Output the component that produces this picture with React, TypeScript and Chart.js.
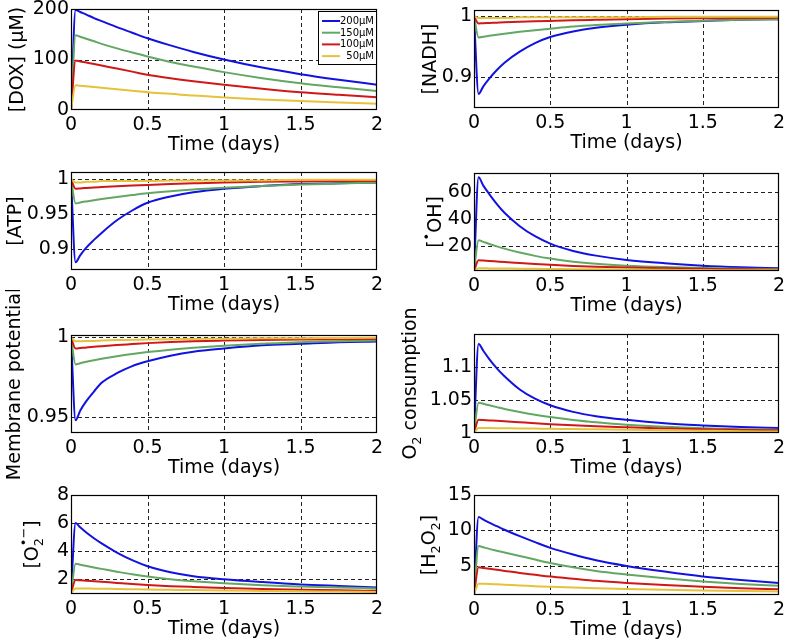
import React, { useEffect, useRef } from "react";
import { Chart, registerables } from "chart.js";

Chart.register(...registerables);

// ---------------- data ----------------
const TIME = [0, 0.03, 0.06, 0.1, 0.15, 0.2, 0.3, 0.4, 0.5, 0.65, 0.8, 1, 1.25, 1.5, 1.75, 2];
const DOSE_LABELS = ["200μM", "150μM", "100μM", "50μM"];
const DOSE_COLORS = ["#1212e0", "#62a862", "#d01818", "#e6c23c"];
const X_TICKS = [0, 0.5, 1, 1.5, 2];
const X_TICK_LABELS = ["0", "0.5", "1", "1.5", "2"];
const X_TITLE = "Time (days)";

const DOX_200 = [0, 198, 194, 189, 182, 176, 164, 153, 142, 128, 115, 100, 84, 71, 60, 50];
const DOX_150 = [0, 148, 145, 141, 136, 131, 122, 114, 106, 95, 86, 75, 63, 53, 45, 37.5];
const DOX_100 = [0, 98, 96, 94, 91, 88, 82, 76, 70, 63, 57, 50, 42, 35, 30, 25];
const DOX_50 = [0, 49, 48, 47, 45.5, 44, 41, 38, 35, 32, 28.5, 25, 21, 18, 15, 12.5];
const DOX_TICKS = [0, 100, 200];
const DOX_TICK_LABELS = ["0", "100", "200"];

const NADH_200 = [1.0, 0.873, 0.885, 0.898, 0.912, 0.924, 0.942, 0.956, 0.966, 0.975, 0.981, 0.986, 0.99, 0.992, 0.994, 0.995];
const NADH_150 = [1.0, 0.965, 0.9665, 0.968, 0.9697, 0.9713, 0.9743, 0.977, 0.9795, 0.983, 0.9855, 0.988, 0.9905, 0.9925, 0.994, 0.995];
const NADH_100 = [1.0, 0.988, 0.9884, 0.9888, 0.9893, 0.9898, 0.9907, 0.9915, 0.9922, 0.9932, 0.994, 0.995, 0.996, 0.9966, 0.997, 0.9972];
const NADH_50 = [1.0, 0.997, 0.997, 0.997, 0.997, 0.997, 0.998, 0.998, 0.998, 0.998, 0.998, 0.998, 0.999, 0.999, 0.999, 0.999];
const NADH_TICKS = [0.9, 1];
const NADH_TICK_LABELS = ["0.9", "1"];

const ATP_200 = [1.0, 0.881, 0.891, 0.902, 0.913, 0.923, 0.941, 0.955, 0.966, 0.975, 0.981, 0.986, 0.99, 0.993, 0.994, 0.995];
const ATP_150 = [1.0, 0.965, 0.9665, 0.968, 0.9697, 0.9713, 0.9743, 0.977, 0.9795, 0.9825, 0.985, 0.9875, 0.99, 0.992, 0.9935, 0.995];
const ATP_100 = [1.0, 0.986, 0.9866, 0.9872, 0.9879, 0.9885, 0.9897, 0.9907, 0.9916, 0.9928, 0.9938, 0.995, 0.996, 0.9965, 0.997, 0.9972];
const ATP_50 = [1.0, 0.995, 0.995, 0.996, 0.996, 0.997, 0.997, 0.997, 0.997, 0.998, 0.998, 0.998, 0.998, 0.999, 0.999, 0.999];
const ATP_TICKS = [0.9, 0.95, 1];
const ATP_TICK_LABELS = ["0.9", "0.95", "1"];

const OH_200 = [1, 71, 65, 58.5, 51, 44.5, 34.5, 27, 21.5, 16, 12.5, 9.3, 6.8, 5, 3.8, 3];
const OH_150 = [1, 24, 22.8, 21.2, 19.4, 17.7, 14.8, 12.3, 10.3, 8, 6.4, 5, 3.9, 3.2, 2.7, 2.3];
const OH_100 = [1, 9, 8.8, 8.5, 8.1, 7.7, 7, 6.3, 5.6, 4.8, 4.2, 3.6, 3, 2.6, 2.3, 2];
const OH_50 = [1, 3, 3, 2.95, 2.9, 2.85, 2.75, 2.6, 2.5, 2.4, 2.25, 2.1, 1.9, 1.7, 1.6, 1.5];
const OH_TICKS = [20, 40, 60];
const OH_TICK_LABELS = ["20", "40", "60"];

const MEM_200 = [1.0, 0.948, 0.954, 0.96, 0.966, 0.9715, 0.9775, 0.982, 0.985, 0.9885, 0.991, 0.993, 0.995, 0.996, 0.997, 0.9974];
const MEM_150 = [1.0, 0.983, 0.9838, 0.9847, 0.9857, 0.9866, 0.9882, 0.9896, 0.9908, 0.9923, 0.9935, 0.9948, 0.996, 0.997, 0.9975, 0.998];
const MEM_100 = [1.0, 0.993, 0.9933, 0.9937, 0.9941, 0.9945, 0.9952, 0.9958, 0.9964, 0.9971, 0.9976, 0.998, 0.9984, 0.9987, 0.9989, 0.999];
const MEM_50 = [1.0, 0.9975, 0.9976, 0.9977, 0.9978, 0.998, 0.9983, 0.9985, 0.9987, 0.9989, 0.999, 0.9992, 0.9994, 0.9995, 0.9996, 0.9997];
const MEM_TICKS = [0.95, 1];
const MEM_TICK_LABELS = ["0.95", "1"];

const O2C_200 = [1.0, 1.135, 1.125, 1.112, 1.098, 1.086, 1.066, 1.052, 1.042, 1.032, 1.0255, 1.02, 1.0148, 1.0115, 1.009, 1.0075];
const O2C_150 = [1.0, 1.046, 1.0443, 1.042, 1.0392, 1.0365, 1.0318, 1.0277, 1.0242, 1.0198, 1.0163, 1.0125, 1.0093, 1.0072, 1.0058, 1.005];
const O2C_100 = [1.0, 1.02, 1.0196, 1.0191, 1.0185, 1.0178, 1.0163, 1.0148, 1.0134, 1.0116, 1.0101, 1.0086, 1.007, 1.0056, 1.0047, 1.004];
const O2C_50 = [1.0, 1.0075, 1.0075, 1.0074, 1.0073, 1.0072, 1.007, 1.0067, 1.0064, 1.006, 1.0055, 1.005, 1.0042, 1.0035, 1.0028, 1.0022];
const O2C_TICKS = [1, 1.05, 1.1];
const O2C_TICK_LABELS = ["1", "1.05", "1.1"];

const SUP_200 = [1.0, 6.0, 5.7, 5.33, 4.92, 4.55, 3.9, 3.36, 2.93, 2.5, 2.22, 2.0, 1.8, 1.63, 1.52, 1.42];
const SUP_150 = [1.0, 3.1, 3.04, 2.95, 2.84, 2.74, 2.54, 2.35, 2.19, 2.0, 1.86, 1.71, 1.57, 1.48, 1.41, 1.35];
const SUP_100 = [1.0, 1.95, 1.93, 1.9, 1.86, 1.82, 1.74, 1.66, 1.59, 1.51, 1.45, 1.38, 1.31, 1.25, 1.21, 1.18];
const SUP_50 = [1.0, 1.35, 1.35, 1.34, 1.33, 1.32, 1.31, 1.29, 1.27, 1.25, 1.23, 1.2, 1.17, 1.14, 1.12, 1.1];
const SUP_TICKS = [2, 4, 6, 8];
const SUP_TICK_LABELS = ["2", "4", "6", "8"];

const H2O2_200 = [1, 11.9, 11.55, 11.1, 10.6, 10.1, 9.2, 8.35, 7.55, 6.6, 5.8, 5.0, 4.2, 3.5, 3.0, 2.6];
const H2O2_150 = [1, 7.8, 7.63, 7.4, 7.14, 6.89, 6.4, 5.9, 5.42, 4.8, 4.3, 3.8, 3.25, 2.8, 2.45, 2.2];
const H2O2_100 = [1, 4.8, 4.72, 4.6, 4.45, 4.3, 4.0, 3.75, 3.5, 3.2, 2.9, 2.6, 2.3, 2.05, 1.85, 1.7];
const H2O2_50 = [1, 2.5, 2.48, 2.45, 2.4, 2.35, 2.25, 2.15, 2.05, 1.95, 1.85, 1.75, 1.65, 1.55, 1.47, 1.4];
const H2O2_TICKS = [5, 10, 15];
const H2O2_TICK_LABELS = ["5", "10", "15"];

// ---------------- layout / style ----------------
const FONT = '"DejaVu Sans", "Liberation Sans", sans-serif';
const FS = 19;
const PT = 45;
const PR = 14;
const XH = 60;

type Seg = { t: string; sub?: boolean; sup?: boolean; stack?: boolean };
interface Panel {
  series: number[][];
  yMin: number;
  yMax: number;
  yTicks: number[];
  yTickLabels: string[];
  title: Seg[];
  rect: [number, number, number, number];
  titleGap: number;
  legend?: boolean;
}

const PANELS: Panel[] = [
  { series: [DOX_200, DOX_150, DOX_100, DOX_50], yMin: 0, yMax: 200, yTicks: DOX_TICKS, yTickLabels: DOX_TICK_LABELS,
    title: [{ t: "[DOX] (μM)" }], rect: [71, 9, 377, 110], titleGap: 55, legend: true },
  { series: [NADH_200, NADH_150, NADH_100, NADH_50], yMin: 0.85, yMax: 1.01, yTicks: NADH_TICKS, yTickLabels: NADH_TICK_LABELS,
    title: [{ t: "[NADH]" }], rect: [474, 10, 779, 108], titleGap: 45 },
  { series: [ATP_200, ATP_150, ATP_100, ATP_50], yMin: 0.87, yMax: 1.01, yTicks: ATP_TICKS, yTickLabels: ATP_TICK_LABELS,
    title: [{ t: "[ATP]" }], rect: [71, 172, 377, 270], titleGap: 57 },
  { series: [OH_200, OH_150, OH_100, OH_50], yMin: 1, yMax: 74.25, yTicks: OH_TICKS, yTickLabels: OH_TICK_LABELS,
    title: [{ t: "[" }, { t: "•", sup: true }, { t: "OH]" }], rect: [474, 173, 779, 271], titleGap: 40 },
  { series: [MEM_200, MEM_150, MEM_100, MEM_50], yMin: 0.94, yMax: 1.0015, yTicks: MEM_TICKS, yTickLabels: MEM_TICK_LABELS,
    title: [{ t: "Membrane potential" }], rect: [71, 335, 377, 433], titleGap: 58 },
  { series: [O2C_200, O2C_150, O2C_100, O2C_50], yMin: 1, yMax: 1.15, yTicks: O2C_TICKS, yTickLabels: O2C_TICK_LABELS,
    title: [{ t: "O" }, { t: "2", sub: true }, { t: " consumption" }], rect: [474, 334, 779, 433], titleGap: 65 },
  { series: [SUP_200, SUP_150, SUP_100, SUP_50], yMin: 0.95, yMax: 8, yTicks: SUP_TICKS, yTickLabels: SUP_TICK_LABELS,
    title: [{ t: "[O" }, { t: "2", sub: true }, { t: "•−", sup: true, stack: true }, { t: "]" }], rect: [71, 495, 377, 594], titleGap: 40 },
  { series: [H2O2_200, H2O2_150, H2O2_100, H2O2_50], yMin: 0.9, yMax: 15, yTicks: H2O2_TICKS, yTickLabels: H2O2_TICK_LABELS,
    title: [{ t: "[H" }, { t: "2", sub: true }, { t: "O" }, { t: "2", sub: true }, { t: "]" }], rect: [474, 495, 779, 595], titleGap: 46 },
];

function drawVerticalRich(ctx: CanvasRenderingContext2D, segs: Seg[], cx: number, cy: number) {
  const small = FS * 0.68;
  const pos: { seg: Seg; x: number }[] = [];
  let cursor = 0;
  let lastX = 0;
  for (const s of segs) {
    ctx.font = `${s.sub || s.sup ? small : FS}px ${FONT}`;
    const w = ctx.measureText(s.t).width;
    if (s.stack) {
      pos.push({ seg: s, x: lastX });
      cursor = Math.max(cursor, lastX + w);
    } else {
      pos.push({ seg: s, x: cursor });
      lastX = cursor;
      cursor += w;
    }
  }
  const total = cursor;
  ctx.save();
  ctx.translate(cx, cy);
  ctx.rotate(-Math.PI / 2);
  ctx.fillStyle = "#000";
  ctx.textAlign = "left";
  ctx.textBaseline = "alphabetic";
  const base = FS * 0.36;
  for (const p of pos) {
    const s = p.seg;
    ctx.font = `${s.sub || s.sup ? small : FS}px ${FONT}`;
    let y = base;
    if (s.sub) y = base + FS * 0.28;
    if (s.sup) y = base - FS * 0.5;
    ctx.fillText(s.t, p.x - total / 2, y);
  }
  ctx.restore();
}

function PanelChart({ p }: { p: Panel }) {
  const ref = useRef<HTMLCanvasElement>(null);
  const [l, t, r, b] = p.rect;
  const yW = l < 300 ? 71 : 80;
  const left = l - yW;
  const top = t - PT;
  const width = r - l + yW + PR;
  const height = b - t + PT + XH;

  useEffect(() => {
    const canvas = ref.current;
    if (!canvas) return;

    const gridFrame = {
      id: "gridFrame",
      beforeDatasetsDraw(chart: any) {
        const { ctx, chartArea: a, scales } = chart;
        ctx.save();
        ctx.strokeStyle = "#222";
        ctx.lineWidth = 1;
        ctx.setLineDash([4, 3]);
        for (const tk of scales.x.ticks) {
          const x = Math.round(scales.x.getPixelForValue(tk.value)) + 0.5;
          if (x > a.left + 2 && x < a.right - 2) {
            ctx.beginPath();
            ctx.moveTo(x, a.top);
            ctx.lineTo(x, a.bottom);
            ctx.stroke();
          }
        }
        for (const tk of scales.y.ticks) {
          const y = Math.round(scales.y.getPixelForValue(tk.value)) + 0.5;
          if (y > a.top + 2 && y < a.bottom - 2) {
            ctx.beginPath();
            ctx.moveTo(a.left, y);
            ctx.lineTo(a.right, y);
            ctx.stroke();
          }
        }
        ctx.restore();
      },
      afterDatasetsDraw(chart: any) {
        const { ctx, chartArea: a } = chart;
        ctx.save();
        ctx.strokeStyle = "#000";
        ctx.lineWidth = 1.2;
        ctx.strokeRect(a.left + 0.5, a.top + 0.5, a.right - a.left - 1, a.bottom - a.top - 1);
        ctx.restore();
      },
    };

    const titles = {
      id: "titles",
      afterDraw(chart: any) {
        const { ctx, chartArea: a } = chart;
        ctx.save();
        ctx.fillStyle = "#000";
        ctx.font = `${FS}px ${FONT}`;
        ctx.textAlign = "center";
        ctx.textBaseline = "middle";
        ctx.fillText(X_TITLE, (a.left + a.right) / 2, a.bottom + 35);
        ctx.restore();
        drawVerticalRich(ctx, p.title, a.left - p.titleGap, (a.top + a.bottom) / 2);
      },
    };

    const legend = {
      id: "mplLegend",
      afterDatasetsDraw(chart: any) {
        if (!p.legend) return;
        const { ctx, chartArea: a } = chart;
        const bw = 59;
        const bx = a.right - bw;
        const by = a.top + 2;
        const bh = 54;
        ctx.save();
        ctx.fillStyle = "#fff";
        ctx.fillRect(bx, by, bw, bh);
        ctx.strokeStyle = "#000";
        ctx.lineWidth = 1;
        ctx.strokeRect(bx + 0.5, by + 0.5, bw - 1, bh - 1);
        ctx.font = `10px ${FONT}`;
        ctx.textAlign = "right";
        ctx.textBaseline = "middle";
        chart.data.datasets.forEach((ds: any, i: number) => {
          const y = by + 10 + i * 11.7;
          ctx.strokeStyle = ds.borderColor;
          ctx.lineWidth = 2;
          ctx.beginPath();
          ctx.moveTo(bx + 4, y);
          ctx.lineTo(bx + 22, y);
          ctx.stroke();
          ctx.fillStyle = "#000";
          ctx.fillText(ds.label, bx + bw - 3, y + 0.5);
        });
        ctx.restore();
      },
    };

    const zeroPad = (s: any) => {
      s.paddingLeft = 0;
      s.paddingRight = 0;
      s.paddingTop = 0;
      s.paddingBottom = 0;
    };

    const chart = new Chart(canvas, {
      type: "line",
      data: {
        datasets: p.series.map((s, i) => ({
          label: DOSE_LABELS[i],
          data: TIME.map((tt, j) => ({ x: tt, y: s[j] })),
          borderColor: DOSE_COLORS[i],
          backgroundColor: DOSE_COLORS[i],
          borderWidth: 2,
          pointRadius: 0,
          fill: false,
          cubicInterpolationMode: "monotone" as const,
          order: 3 - i,
        })),
      },
      options: {
        animation: false,
        responsive: false,
        devicePixelRatio: 1,
        events: [],
        layout: { padding: { top: PT, right: PR, left: 0, bottom: 0 } },
        plugins: { legend: { display: false }, tooltip: { enabled: false } },
        scales: {
          x: {
            type: "linear",
            min: 0,
            max: 2,
            afterBuildTicks: (s: any) => {
              s.ticks = X_TICKS.map((v) => ({ value: v }));
            },
            afterFit: (s: any) => {
              s.height = XH;
              zeroPad(s);
            },
            ticks: {
              autoSkip: false,
              maxRotation: 0,
              padding: 4,
              color: "#000",
              font: { family: FONT, size: FS, lineHeight: 1.2 },
              callback: (_v: any, i: number) => X_TICK_LABELS[i],
            },
            grid: { display: false, drawTicks: false },
            border: { display: false },
          },
          y: {
            type: "linear",
            min: p.yMin,
            max: p.yMax,
            afterBuildTicks: (s: any) => {
              s.ticks = p.yTicks.map((v) => ({ value: v }));
            },
            afterFit: (s: any) => {
              s.width = yW;
              zeroPad(s);
            },
            ticks: {
              autoSkip: false,
              padding: 2,
              color: "#000",
              font: { family: FONT, size: FS, lineHeight: 1.2 },
              callback: (_v: any, i: number) => p.yTickLabels[i],
            },
            grid: { display: false, drawTicks: false },
            border: { display: false },
          },
        },
      } as any,
      plugins: [gridFrame, legend, titles],
    });
    return () => chart.destroy();
  }, []);

  return (
    <canvas
      ref={ref}
      width={width}
      height={height}
      style={{ position: "absolute", left, top, width, height }}
    />
  );
}

export default function App() {
  return (
    <div
      style={{
        position: "absolute",
        left: 0,
        top: 0,
        width: 791,
        height: 644,
        background: "#fff",
        overflow: "hidden",
      }}
    >
      {PANELS.map((p, i) => (
        <PanelChart key={i} p={p} />
      ))}
    </div>
  );
}
